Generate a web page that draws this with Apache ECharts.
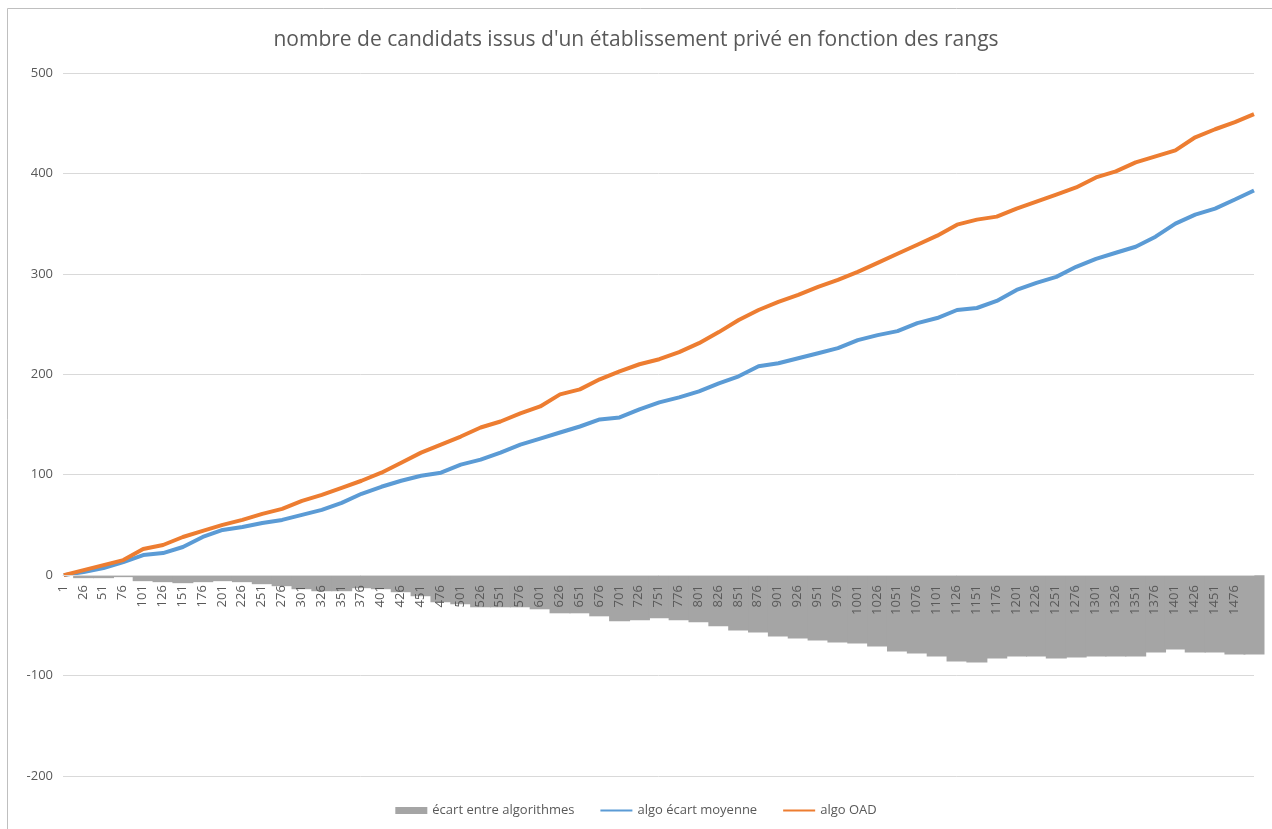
<!DOCTYPE html>
<html>
<head>
<meta charset="utf-8">
<script src="https://cdn.jsdelivr.net/npm/echarts@6/dist/echarts.min.js"></script>
<style>
  html, body { margin: 0; padding: 0; background: #fff; }
  #chart { width: 1272px; height: 829px; }
</style>
</head>
<body>
<div id="chart"></div>
<script>
// rangs echantillonnes (un point tous les 25 rangs)
var rangs = [1, 26, 51, 76, 101, 126, 151, 176, 201, 226, 251, 276, 301, 326, 351, 376, 401, 426, 451, 476,
  501, 526, 551, 576, 601, 626, 651, 676, 701, 726, 751, 776, 801, 826, 851, 876, 901, 926, 951, 976,
  1001, 1026, 1051, 1076, 1101, 1126, 1151, 1176, 1201, 1226, 1251, 1276, 1301, 1326, 1351, 1376, 1401, 1426, 1451, 1476, 1500]

var algoOAD = [0, 5, 10, 15, 26, 30, 38, 44, 50, 55, 61, 66, 74, 80, 87, 94, 102, 112, 122, 130,
  138, 147, 153, 161, 168, 180, 185, 195, 203, 210, 215, 222, 231, 242, 254, 264, 272, 279, 287, 294,
  302, 311, 320, 329, 338, 349, 354, 357, 365, 372, 379, 386, 396, 402, 411, 417, 423, 436, 444, 451, 459]

var algoMoyenne = [0, 3, 7, 13, 20, 22, 28, 38, 45, 48, 52, 55, 60, 65, 72, 81, 88, 94, 99, 102,
  110, 115, 122, 130, 136, 142, 148, 155, 157, 165, 172, 177, 183, 191, 198, 208, 211, 216, 221, 226,
  234, 239, 243, 251, 256, 264, 266, 273, 284, 291, 297, 307, 315, 321, 327, 337, 350, 359, 365, 374, 383]

var ecart = [0, -3, -3, -2, -6, -7, -8, -7, -6, -7, -9, -11, -14, -16, -16, -13, -14, -17, -21, -27,
  -29, -32, -32, -32, -34, -38, -38, -41, -46, -45, -43, -45, -47, -51, -55, -57, -61, -63, -65, -67,
  -68, -71, -76, -78, -81, -86, -87, -83, -81, -81, -83, -82, -81, -81, -81, -77, -74, -77, -77, -79, -79]

var titre = "nombre de candidats issus d'un établissement privé en fonction des rangs"

function paires(vals) {
  return rangs.map(function (r, i) { return [r, vals[i]] })
}

var chart = echarts.init(document.getElementById('chart'))
var font = "'Open Sans', 'Noto Sans', sans-serif"

// axe des x place sur la ligne du zero (onZero ne marche pas ici)
var hautGrille = 829 - 73 - 53
var decalZero = -hautGrille * 200 / 700

chart.setOption({
  animation: false,
  textStyle: { fontFamily: font },
  title: {
    text: titre,
    left: 'center',
    top: 25,
    textStyle: { color: '#595959', fontSize: 21, fontWeight: 'normal', fontFamily: font }
  },
  graphic: [{
    type: 'rect',
    shape: { x: 7.5, y: 8.5, width: 1300, height: 900 },
    style: { fill: 'none', stroke: '#bfbfbf', lineWidth: 1 },
    silent: true
  }],
  grid: { left: 63, right: 18, top: 73, bottom: 53 },
  legend: {
    bottom: 7,
    left: 'center',
    itemWidth: 32,
    itemHeight: 7,
    itemGap: 25,
    textStyle: { color: '#595959', fontSize: 13, fontFamily: font },
    data: [
      { name: 'écart entre algorithmes', icon: 'rect' },
      { name: 'algo écart moyenne', itemStyle: { opacity: 0 } },
      { name: 'algo OAD', itemStyle: { opacity: 0 } }
    ]
  },
  xAxis: {
    type: 'value',
    min: 0,
    max: 1500,
    interval: 25,
    z: 10,
    offset: decalZero,
    splitLine: { show: false },
    axisTick: { show: false },
    axisLine: { onZero: false, lineStyle: { color: '#d9d9d9', width: 1 } },
    axisLabel: {
      rotate: 90,
      margin: 10,
      color: '#595959',
      fontSize: 13,
      showMaxLabel: false,
      formatter: function (v) { return v < 1500 ? String(v + 1) : '' }
    }
  },
  yAxis: {
    type: 'value',
    min: -200,
    max: 500,
    interval: 100,
    axisLine: { show: false, onZero: false },
    axisTick: { show: false },
    splitLine: { lineStyle: { color: '#d9d9d9', width: 1 } },
    axisLabel: { color: '#595959', fontSize: 13, margin: 10 }
  },
  series: [
    {
      name: 'écart entre algorithmes',
      type: 'bar',
      barWidth: 21,
      clip: true,
      itemStyle: { color: '#a5a5a5' },
      data: paires(ecart)
    },
    {
      name: 'algo écart moyenne',
      type: 'line',
      symbol: 'none',
      showSymbol: false,
      lineStyle: { color: '#5b9bd5', width: 4 },
      itemStyle: { color: '#5b9bd5' },
      data: paires(algoMoyenne)
    },
    {
      name: 'algo OAD',
      type: 'line',
      symbol: 'none',
      showSymbol: false,
      lineStyle: { color: '#ed7d31', width: 4 },
      itemStyle: { color: '#ed7d31' },
      data: paires(algoOAD)
    }
  ]
})
</script>
</body>
</html>
